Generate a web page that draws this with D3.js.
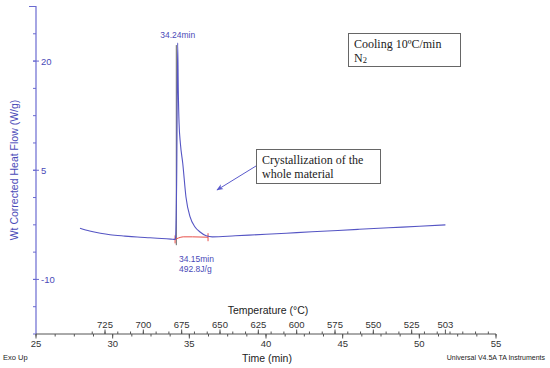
<!DOCTYPE html>
<html>
<head>
<meta charset="utf-8">
<script src="https://cdn.jsdelivr.net/npm/d3@7"></script>
<style>
  body { margin: 0; background: #fff; }
  svg { display: block; font-family: "Liberation Sans", Arial, sans-serif; }
</style>
</head>
<body>
<svg id="chart" width="550" height="368"></svg>
<script>
// DSC cooling trace
const timeMin = [27.87, 28.5, 29.2, 29.83, 30.8, 31.6, 32.44, 33.2, 33.8, 34.07,
                 34.10, 34.18, 34.24, 34.28, 34.33, 34.42, 34.57, 34.78, 35.05, 35.37,
                 35.70, 36.10, 36.50, 38, 40, 42, 44, 46, 48, 50, 51.7];
const heatFlow = [-2.97, -3.35, -3.65, -3.86, -4.05, -4.18, -4.28, -4.38, -4.46, -4.5,
                  -4.3, 5, 22.5, 16, 11.5, 8.6, 5.97, 1.33, -1.42, -2.79,
                  -3.48, -4.0, -4.15, -4.0, -3.8, -3.57, -3.35, -3.12, -2.9, -2.7, -2.5];

// integration baseline (red)
const baseTime = [34.07, 34.3, 34.6, 35.2, 36.22];
const baseFlow = [-4.5, -4.3, -4.15, -4.15, -4.2];

const peakTime = 34.24, peakFlow = 22.5;
const onsetTime = 34.15;
const yTicks = [20, 5, -10];
const timeTicks = [25, 30, 35, 40, 45, 50, 55];
const tempTicks = [725, 700, 675, 650, 625, 600, 575, 550, 525, 503];

const svg = d3.select('#chart');
const blue = '#4a4ab8';

const x = d3.scaleLinear().domain([25, 55]).range([36, 496]);
const y = d3.scaleLinear().domain([-17.5, 27.5]).range([334, 6.5]);
// 10 C/min cooling: temperature axis tied to time
const xT = d3.scaleLinear().domain([770, 470]).range([36, 496]);

// y axis
const gy = svg.append('g');
gy.append('line').attr('x1', 36).attr('x2', 36).attr('y1', 6).attr('y2', 334)
  .attr('stroke', '#6a6ad0').attr('stroke-width', 1.2);
gy.append('line').attr('x1', 29).attr('x2', 36).attr('y1', 6.5).attr('y2', 6.5)
  .attr('stroke', '#6a6ad0');
gy.selectAll('.minor').data(d3.range(-17.5, 27.5, 3.75)).join('line')
  .attr('x1', 33).attr('x2', 36).attr('y1', d => y(d)).attr('y2', d => y(d))
  .attr('stroke', '#6a6ad0');
gy.selectAll('.major').data(yTicks).join('line')
  .attr('x1', 33).attr('x2', 39).attr('y1', d => y(d)).attr('y2', d => y(d))
  .attr('stroke', '#6a6ad0');
gy.selectAll('text').data(yTicks).join('text')
  .attr('x', 41).attr('y', d => y(d) + 3.5)
  .attr('font-size', 9.5).attr('fill', blue).text(d => d);

svg.append('text')
  .attr('transform', 'translate(18,170) rotate(-90)')
  .attr('text-anchor', 'middle').attr('font-size', 10.5).attr('fill', blue)
  .text('Wt Corrected Heat Flow (W/g)');

// bottom axes (time below, temperature above)
const gx = svg.append('g');
gx.append('line').attr('x1', 36).attr('x2', 496).attr('y1', 334).attr('y2', 334)
  .attr('stroke', '#555');
gx.selectAll('.tmin').data(d3.range(25, 55.01, 1.25)).join('line')
  .attr('x1', d => x(d)).attr('x2', d => x(d)).attr('y1', 334).attr('y2', 336.5)
  .attr('stroke', '#555');
gx.selectAll('.tmaj').data(timeTicks).join('line')
  .attr('x1', d => x(d)).attr('x2', d => x(d)).attr('y1', 334).attr('y2', 338.5)
  .attr('stroke', '#555');
gx.selectAll('.tlab').data(timeTicks).join('text')
  .attr('x', d => x(d)).attr('y', 347).attr('text-anchor', 'middle')
  .attr('font-size', 9.5).attr('fill', '#333').text(d => d);

gx.selectAll('.cmin').data(d3.range(733.33, 470, -25 / 3)).join('line')
  .attr('x1', d => xT(d)).attr('x2', d => xT(d)).attr('y1', 334).attr('y2', 331.5)
  .attr('stroke', '#555');
gx.selectAll('.cmaj').data(tempTicks).join('line')
  .attr('x1', d => xT(d)).attr('x2', d => xT(d)).attr('y1', 334).attr('y2', 329.5)
  .attr('stroke', '#555');
gx.selectAll('.clab').data(tempTicks).join('text')
  .attr('x', d => xT(d)).attr('y', 328).attr('text-anchor', 'middle')
  .attr('font-size', 9.5).attr('fill', '#333').text(d => d);

svg.append('text').attr('x', 268).attr('y', 314).attr('text-anchor', 'middle')
  .attr('font-size', 10.5).attr('fill', '#222').text('Temperature (°C)');
svg.append('text').attr('x', 267).attr('y', 362).attr('text-anchor', 'middle')
  .attr('font-size', 10.5).attr('fill', '#222').text('Time (min)');
svg.append('text').attr('x', 3).attr('y', 360)
  .attr('font-size', 7.5).attr('fill', '#222').text('Exo Up');
svg.append('text').attr('x', 545).attr('y', 360).attr('text-anchor', 'end')
  .attr('font-size', 7).attr('fill', '#222').text('Universal V4.5A TA Instruments');

// onset drop line
svg.append('line')
  .attr('x1', x(onsetTime)).attr('x2', x(onsetTime))
  .attr('y1', y(peakFlow - 0.3)).attr('y2', y(-5.3))
  .attr('stroke', '#666').attr('stroke-width', 1);

// integration baseline
const data = timeMin.map((t, i) => ({t, v: heatFlow[i]}));
const base = baseTime.map((t, i) => ({t, v: baseFlow[i]}));
const line = d3.line().x(d => x(d.t)).y(d => y(d.v)).curve(d3.curveMonotoneX);

svg.append('path').datum(base).attr('d', line)
  .attr('fill', 'none').attr('stroke', '#e8504a').attr('stroke-width', 1);
svg.selectAll('.bend').data([base[0], base[base.length - 1]]).join('line')
  .attr('x1', d => x(d.t)).attr('x2', d => x(d.t))
  .attr('y1', d => y(d.v) - 4).attr('y2', d => y(d.v) + 4)
  .attr('stroke', '#e8504a');

// heat flow curve
svg.append('path').datum(data).attr('d', line)
  .attr('fill', 'none').attr('stroke', '#5555c4').attr('stroke-width', 1.1);

// peak labels
svg.append('text').attr('x', x(peakTime)).attr('y', y(peakFlow) - 5)
  .attr('text-anchor', 'middle').attr('font-size', 8.5).attr('fill', blue)
  .text(peakTime + 'min');
svg.append('text').attr('x', 179).attr('y', 262)
  .attr('font-size', 8.5).attr('fill', blue).text(onsetTime + 'min');
svg.append('text').attr('x', 179).attr('y', 272)
  .attr('font-size', 8.5).attr('fill', blue).text('492.8J/g');

// annotation boxes
const serif = '"Liberation Serif", "DejaVu Serif", serif';
svg.append('rect').attr('x', 348.5).attr('y', 33.5).attr('width', 112).attr('height', 33)
  .attr('fill', '#fff').attr('stroke', '#666');
svg.append('text').attr('x', 354).attr('y', 48).attr('font-family', serif)
  .attr('font-size', 12).attr('fill', '#222').text('Cooling 10ºC/min');
const n2 = svg.append('text').attr('x', 354).attr('y', 62).attr('font-family', serif)
  .attr('font-size', 12).attr('fill', '#222');
n2.append('tspan').text('N');
n2.append('tspan').attr('font-size', 8.5).attr('dy', 1).text('2');

svg.append('defs').append('marker').attr('id', 'arr')
  .attr('viewBox', '0 0 10 10').attr('refX', 9).attr('refY', 5)
  .attr('markerWidth', 7).attr('markerHeight', 7).attr('orient', 'auto')
  .append('path').attr('d', 'M0,1 L10,5 L0,9 L3,5 Z').attr('fill', '#5a5acc');
svg.append('line').attr('x1', 256).attr('y1', 166).attr('x2', 217).attr('y2', 190)
  .attr('stroke', '#5a5acc').attr('stroke-width', 1).attr('marker-end', 'url(#arr)');

svg.append('rect').attr('x', 256.5).attr('y', 149.5).attr('width', 124).attr('height', 34)
  .attr('fill', '#fff').attr('stroke', '#666');
svg.append('text').attr('x', 262).attr('y', 164).attr('font-family', serif)
  .attr('font-size', 12).attr('fill', '#222').text('Crystallization of the');
svg.append('text').attr('x', 262).attr('y', 178).attr('font-family', serif)
  .attr('font-size', 12).attr('fill', '#222').text('whole material');
</script>
</body>
</html>
